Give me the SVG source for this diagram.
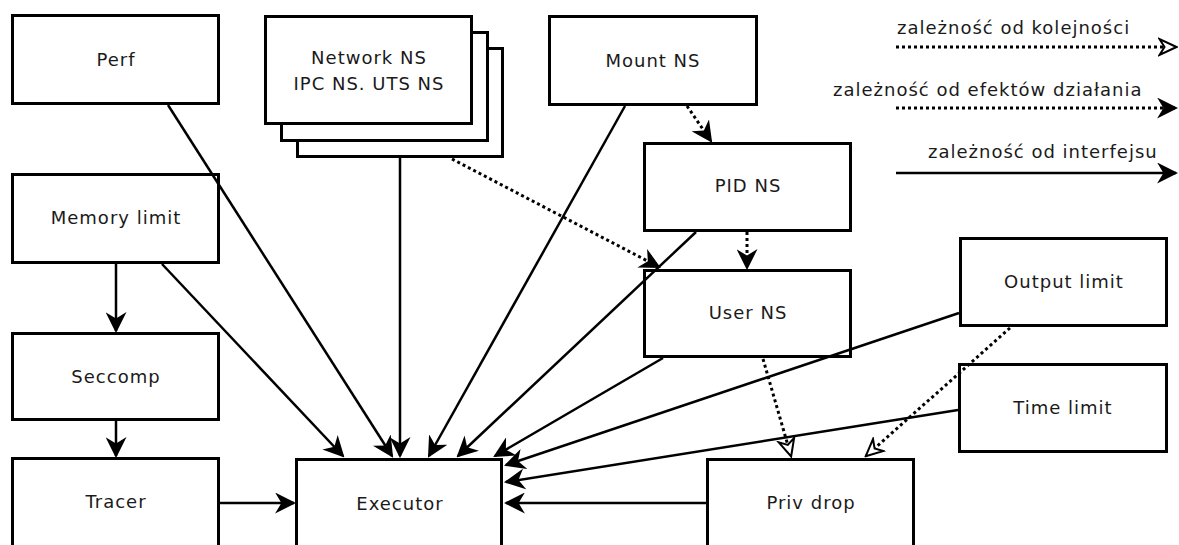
<svg xmlns="http://www.w3.org/2000/svg" width="1179" height="545" viewBox="0 0 1179 545">
  <style>
    .box { fill: #fff; stroke: #000; stroke-width: 3; }
    .lbl { font-family: "DejaVu Sans", sans-serif; font-size: 18px; fill: #1a1a1a; text-anchor: middle; letter-spacing: 1px; }
    .leg { font-family: "DejaVu Sans", sans-serif; font-size: 18px; fill: #1a1a1a; letter-spacing: 1px; }
    .iface { fill: none; stroke: #000; stroke-width: 2.5; marker-end: url(#ah); }
    .effect { fill: none; stroke: #000; stroke-width: 3; stroke-dasharray: 3 3; marker-end: url(#ah); }
    .order { fill: none; stroke: #000; stroke-width: 3; stroke-dasharray: 3 3; marker-end: url(#oh); }
  </style>
  <defs>
    <marker id="ah" markerUnits="userSpaceOnUse" viewBox="0 0 20 20" refX="18" refY="10" markerWidth="21" markerHeight="21" orient="auto">
      <path d="M20,10 L0,0 L6,10 L0,20 Z" fill="#000"/>
    </marker>
    <marker id="oh" markerUnits="userSpaceOnUse" viewBox="0 0 20 20" refX="18" refY="10" markerWidth="20" markerHeight="20" orient="auto">
      <path d="M18.5,10 L1.5,2 L6.5,10 L1.5,18 Z" fill="#fff" stroke="#000" stroke-width="2" stroke-linejoin="miter"/>
    </marker>
  </defs>

  <g id="node-perf"><rect class="box" x="12.5" y="15.5" width="206" height="88"/><text class="lbl" x="116" y="66">Perf</text></g>
  <g id="node-memory"><rect class="box" x="12.5" y="174.5" width="206" height="88"/><text class="lbl" x="116" y="224">Memory limit</text></g>
  <g id="node-seccomp"><rect class="box" x="12.5" y="333.5" width="206" height="86"/><text class="lbl" x="116" y="383">Seccomp</text></g>
  <g id="node-tracer"><rect class="box" x="12.5" y="458.5" width="206" height="88"/><text class="lbl" x="116" y="508">Tracer</text></g>
  <g id="node-network">
    <rect class="box" x="297.5" y="48.5" width="205" height="108"/>
    <rect class="box" x="281.5" y="32.5" width="206" height="108"/>
    <rect class="box" x="265.5" y="16.5" width="206" height="107"/>
    <text class="lbl" x="369" y="64">Network NS</text>
    <text class="lbl" x="369" y="90">IPC NS. UTS NS</text>
  </g>
  <g id="node-mount"><rect class="box" x="549.5" y="16.5" width="207" height="88"/><text class="lbl" x="653" y="67">Mount NS</text></g>
  <g id="node-pid"><rect class="box" x="644.5" y="143.5" width="206" height="87"/><text class="lbl" x="748" y="192">PID NS</text></g>
  <g id="node-user"><rect class="box" x="644.5" y="270.5" width="206" height="86"/><text class="lbl" x="748" y="319">User NS</text></g>
  <g id="node-output"><rect class="box" x="960.5" y="238.5" width="206" height="87"/><text class="lbl" x="1064" y="288">Output limit</text></g>
  <g id="node-time"><rect class="box" x="959.5" y="364.5" width="207" height="87"/><text class="lbl" x="1063" y="414">Time limit</text></g>
  <g id="node-executor"><rect class="box" x="296.5" y="459.5" width="205" height="88"/><text class="lbl" x="400" y="510">Executor</text></g>
  <g id="node-privdrop"><rect class="box" x="707.5" y="459.5" width="206" height="88"/><text class="lbl" x="811" y="509">Priv drop</text></g>

  <g id="connectors">
    <line class="iface" x1="168" y1="105" x2="392" y2="456"/>
    <line class="iface" x1="162" y1="264" x2="343" y2="456"/>
    <line class="iface" x1="400" y1="158" x2="400" y2="456"/>
    <line class="iface" x1="625" y1="106" x2="429" y2="456"/>
    <line class="iface" x1="696" y1="232" x2="458" y2="456"/>
    <line class="iface" x1="663" y1="358" x2="495" y2="456"/>
    <line class="iface" x1="959" y1="313" x2="506" y2="465"/>
    <line class="iface" x1="958" y1="410" x2="506" y2="482"/>
    <line class="iface" x1="706" y1="503" x2="506" y2="503"/>
    <line class="iface" x1="220" y1="503" x2="294" y2="503"/>
    <line class="iface" x1="116" y1="264" x2="116" y2="331"/>
    <line class="iface" x1="116" y1="421" x2="116" y2="456"/>
    <line class="effect" x1="687" y1="106" x2="711" y2="141"/>
    <line class="effect" x1="747" y1="232" x2="747" y2="268"/>
    <line class="effect" x1="452" y1="159" x2="659" y2="267"/>
    <line class="order" x1="763" y1="359" x2="791" y2="456"/>
    <line class="order" x1="1010" y1="328" x2="866" y2="456"/>
  </g>

  <g id="legend">
    <text class="leg" x="897" y="34">zależność od kolejności</text>
    <line class="order" x1="896" y1="47" x2="1176" y2="47"/>
    <text class="leg" x="833" y="96">zależność od efektów działania</text>
    <line class="effect" x1="896" y1="108" x2="1176" y2="108"/>
    <text class="leg" x="928" y="158">zależność od interfejsu</text>
    <line class="iface" x1="896" y1="173" x2="1176" y2="173"/>
  </g>
</svg>
